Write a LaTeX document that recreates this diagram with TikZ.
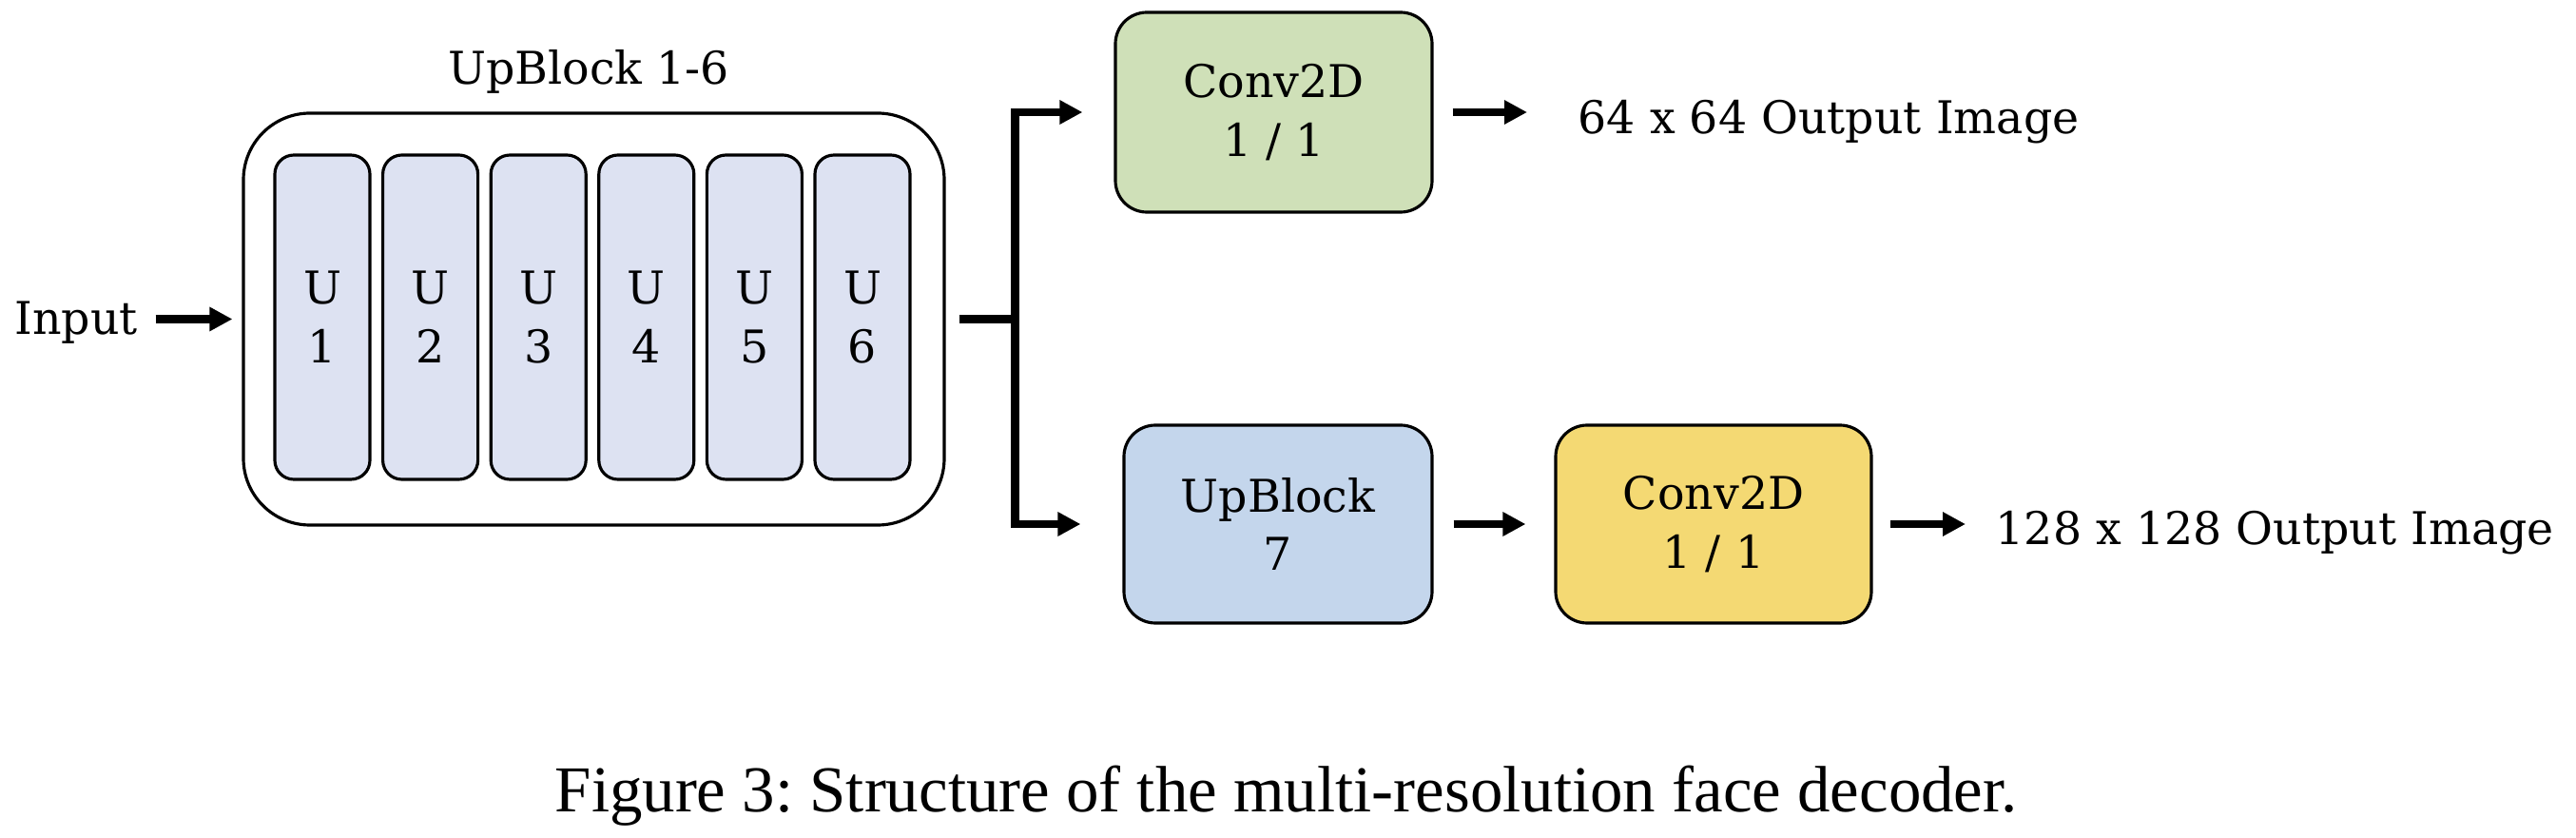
\documentclass[tikz,border=0pt]{standalone}
\usepackage{fontspec}
\setmainfont{DejaVu Serif}
\newfontfamily\capfont{Liberation Serif}
\usetikzlibrary{arrows.meta}
\definecolor{ufill}{RGB}{221,226,242}
\definecolor{cgreen}{RGB}{207,224,184}
\definecolor{cblue}{RGB}{196,214,236}
\definecolor{cyellow}{RGB}{244,217,115}
\tikzset{
  box/.style={draw, line width=0.9pt, rounded corners=0.33cm, minimum width=3.33cm, minimum height=2.1cm, align=center, font=\fontsize{13.5}{17.6}\selectfont},
  ubox/.style={box, rounded corners=0.2cm, minimum width=1cm, minimum height=3.41cm, fill=ufill},
  arr/.style={line width=2.4pt, -{Triangle[length=0.24cm,width=0.24cm]}},
  lbl/.style={inner sep=0pt, font=\fontsize{13.5}{16}\selectfont}
}
\begin{document}
\begin{tikzpicture}
    \useasboundingbox (0,0) rectangle (27.09,-8.81);
    \node[box, rounded corners=0.7cm, minimum width=7.37cm, minimum height=4.33cm] (ub) at (6.245,-3.355) {};
    \node[lbl, anchor=base] (ubt) at (6.19,-0.89) {UpBlock 1-6};
    \foreach \i in {1,...,6} {
        \node[ubox] (u\i) at ({3.39+1.136*(\i-1)},-3.335) {U\\\i};
    }
    \node[lbl, anchor=base west] (in) at (0.15,-3.52) {Input};
    \node[box, fill=cgreen] (conv1) at (13.395,-1.18) {Conv2D\\1 / 1};
    \node[box, fill=cblue, minimum width=3.24cm, minimum height=2.08cm] (upb) at (13.44,-5.51) {UpBlock\\7};
    \node[box, fill=cyellow, minimum width=3.32cm, minimum height=2.08cm] (conv2) at (18.02,-5.51) {Conv2D\\1 / 1};
    \node[lbl, anchor=base west] (out1) at (16.59,-1.41) {64 x 64 Output Image};
    \node[lbl, anchor=base west] (out2) at (20.98,-5.73) {128 x 128 Output Image};
    \node[anchor=base west, inner sep=0pt, font=\capfont\fontsize{19.6}{23}\selectfont\frenchspacing] (cap) at (5.83,-8.54) {Figure 3: Structure of the multi-resolution face decoder.};
    \draw[arr, shorten <=0.18cm, shorten >=0.1cm] (in.east |- ub.west) -- (ub.west);
    \path (ub.east) ++(0.73,0) coordinate (split);
    \draw[line width=2.4pt, shorten <=0.14cm] (ub.east) -- (split);
    \draw[arr, shorten >=0.33cm] (split) |- (conv1.west);
    \draw[arr, shorten >=0.44cm] (split) |- (upb.west);
    \draw[arr, shorten <=0.21cm, shorten >=0.3cm] (upb) -- (conv2);
    \draw[arr, shorten <=0.2cm, shorten >=0.53cm] (conv1.east) -- (conv1.east -| out1.west);
    \draw[arr, shorten <=0.18cm, shorten >=0.31cm] (conv2.east) -- (conv2.east -| out2.west);
\end{tikzpicture}
\end{document}
